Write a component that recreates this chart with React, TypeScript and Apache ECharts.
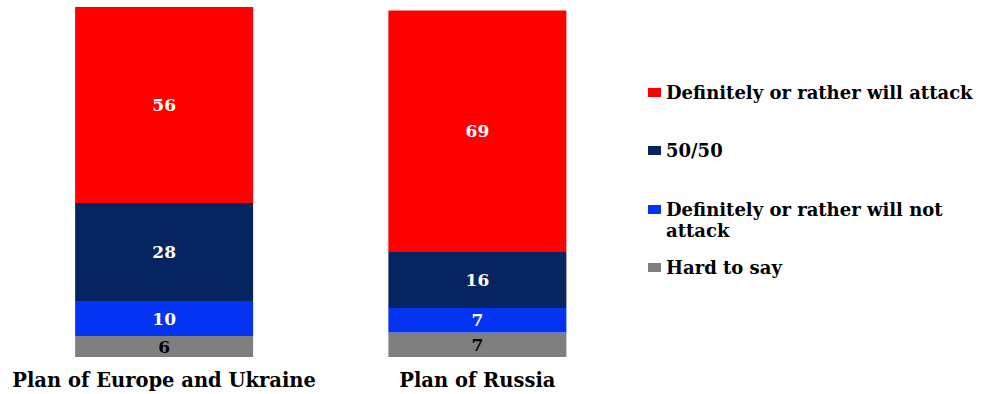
import React, { useEffect, useRef } from "react";
import * as echarts from "echarts";

const categories = ["Plan of Europe and Ukraine", "Plan of Russia"];
const seriesNames = [
  "Hard to say",
  "Definitely or rather will not attack",
  "50/50",
  "Definitely or rather will attack",
];
const hardToSay = [6, 7];
const willNotAttack = [10, 7];
const fiftyFifty = [28, 16];
const willAttack = [56, 69];
const seriesValues = [hardToSay, willNotAttack, fiftyFifty, willAttack];
const seriesColors = ["#7f7f7f", "#0533f2", "#062460", "#ff0000"];
const labelColors = ["#000000", "#ffffff", "#ffffff", "#ffffff"];
const legendLabels = [
  "Definitely or rather will attack",
  "50/50",
  "\nDefinitely or rather will not\nattack",
  "Hard to say",
];

const FONT = "DejaVu Serif";

export default function App() {
  const ref = useRef<HTMLDivElement>(null);
  useEffect(() => {
    if (!ref.current) return;
    const chart = echarts.init(ref.current, null, { renderer: "svg" });
    const legendTops = [77, 135, 173, 252];
    const legendOrder = [3, 2, 1, 0];
    chart.setOption({
      animation: false,
      backgroundColor: "#ffffff",
      grid: { left: 7.5, right: 359, top: 7, bottom: 37, containLabel: false },
      xAxis: {
        type: "category",
        data: categories,
        axisLine: { show: false },
        axisTick: { show: false },
        axisLabel: {
          interval: 0,
          margin: 13,
          color: "#000000",
          fontFamily: FONT,
          fontWeight: "bold",
          fontSize: 19.5,
        },
      },
      yAxis: { type: "value", min: 0, max: 100, show: false },
      legend: legendOrder.map((si, i) => ({
        data: [seriesNames[si]],
        left: 643,
        top: legendTops[i],
        orient: "vertical",
        itemWidth: 13,
        itemHeight: 9,
        itemGap: 6,
        icon: "rect",
        selectedMode: false,
        formatter: () => legendLabels[i],
        textStyle: {
          fontFamily: FONT,
          fontWeight: "bold",
          fontSize: 18,
          lineHeight: 21,
          color: "#000000",
        },
      })),
      series: seriesValues.map((vals, si) => ({
        name: seriesNames[si],
        type: "bar",
        stack: "total",
        barWidth: 178,
        data: vals,
        itemStyle: { color: seriesColors[si] },
        label: {
          show: true,
          position: "inside",
          color: labelColors[si],
          fontFamily: FONT,
          fontWeight: "bold",
          fontSize: 17,
        },
      })),
    });
    return () => chart.dispose();
  }, []);
  return (
    <div
      ref={ref}
      style={{ position: "fixed", left: 0, top: 0, width: 993, height: 394 }}
    />
  );
}
